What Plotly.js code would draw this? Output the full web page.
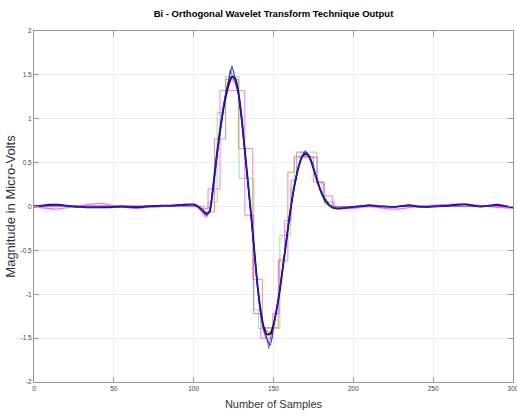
<!DOCTYPE html>
<html>
<head>
<meta charset="utf-8">
<script src="https://cdn.plot.ly/plotly-3.0.1.min.js"></script>
<style>html,body{margin:0;padding:0;background:#fff;}#chart{width:517px;height:414px;}</style>
</head>
<body>
<div id="chart"></div>
<script>
// ---- data ----
var xTickVals = [0, 50, 100, 150, 200, 250, 300];
var xTickText = ["0", "50", "100", "150", "200", "250", "300"];
var yTickVals = [-2, -1.5, -1, -0.5, 0, 0.5, 1, 1.5, 2];
var yTickText = ["-2", "-1.5", "-1", "-0.5", "0", "0.5", "1", "1.5", "2"];

// original signal (black)
var blackX = [0,5,10,15,20,25,30,35,40,45,50,55,60,65,70,75,80,85,90,95,100,102,104,106,108,110,112,114,116,118,120,122,124,126,128,130,132,134,136,138,140,142,144,146,148,150,152,154,156,158,160,162,164,166,168,170,172,174,176,178,180,182,184,186,188,190,195,200,205,210,215,220,225,230,235,240,245,250,255,260,265,270,275,280,285,290,295,300];
var blackY = [0.0,0.01,0.02,0.02,0.01,0.0,-0.005,-0.01,-0.01,-0.01,-0.005,0.0,-0.005,-0.01,0.0,0.005,0.01,0.01,0.015,0.02,0.025,0.01,-0.02,-0.05,-0.08,-0.06,0.2,0.52,0.8,1.05,1.25,1.4,1.48,1.46,1.3,1.02,0.65,0.28,-0.1,-0.5,-0.9,-1.2,-1.38,-1.46,-1.45,-1.35,-1.17,-0.95,-0.68,-0.4,-0.12,0.12,0.32,0.47,0.57,0.6,0.58,0.5,0.38,0.26,0.16,0.08,0.03,0.0,-0.02,-0.025,-0.015,-0.005,0.005,0.015,0.005,0.0,-0.005,0.005,0.015,0.0,-0.005,0.0,0.005,0.01,0.02,0.025,0.01,0.0,0.01,0.02,0.005,-0.01];

// reconstructed signal (blue)
var blueX = blackX;
var blueY = [0.0,0.01,0.015,0.02,0.01,0.0,-0.005,-0.01,-0.01,-0.005,-0.005,0.0,-0.005,-0.005,0.0,0.005,0.01,0.01,0.015,0.02,0.02,0.01,-0.02,-0.06,-0.1,-0.05,0.18,0.5,0.8,1.06,1.28,1.44,1.6,1.45,1.28,1.0,0.63,0.26,-0.12,-0.52,-0.92,-1.22,-1.42,-1.52,-1.58,-1.38,-1.17,-0.94,-0.66,-0.38,-0.1,0.13,0.33,0.48,0.58,0.62,0.59,0.5,0.38,0.26,0.16,0.08,0.03,0.0,-0.02,-0.02,-0.015,-0.005,0.005,0.01,0.005,0.0,-0.005,0.005,0.01,0.0,-0.005,0.0,0.005,0.01,0.02,0.02,0.01,0.0,0.01,0.015,0.005,-0.01];

// thin dark reconstruction (gray)
var grayX = [100,104,106,108,110,112,116,120,122,123,124,126,128,132,136,140,144,146,147,148,150,154,158,162,166,169,170,172,176,180,186,190];
var grayY = [0.02,-0.02,-0.06,-0.1,-0.07,0.2,0.8,1.28,1.46,1.56,1.5,1.42,1.28,0.64,-0.12,-0.92,-1.4,-1.5,-1.62,-1.5,-1.36,-0.95,-0.4,0.12,0.48,0.62,0.64,0.58,0.38,0.16,0.0,-0.02];

// smooth magenta reconstruction
var magSX = [0,8,14,22,30,41,50,62,72,80,90,100,104,108,112,116,120,124,128,132,136,140,144,148,152,156,160,164,168,170,172,176,180,186,192,200,210,225,240,255,270,285,300];
var magSY = [0.0,-0.02,-0.03,-0.01,0.01,0.035,0.01,-0.02,-0.01,0.0,0.02,0.02,-0.04,-0.12,0.15,0.78,1.22,1.45,1.3,0.62,-0.12,-0.9,-1.38,-1.44,-1.15,-0.66,-0.12,0.32,0.56,0.58,0.56,0.36,0.15,0.0,-0.02,-0.02,0.0,-0.03,0.0,0.02,0.03,0.0,-0.02];

// step approximations
var redX = [0,100,106,113,120,128,137,143,150,153,159,163,175,181,187,300];
var redY = [0.01,0.0,-0.06,0.77,1.45,0.66,-0.83,-1.38,-1.38,-0.62,0.39,0.57,0.28,0.12,0.0,0.0];

var greenX = [0,100,104,109,114.7,120,128.5,137.7,140.5,154,160.8,163,166.6,177,182,188,300];
var greenY = [0.0,0.0,-0.03,0.05,1.07,1.48,0.32,-1.18,-1.39,-0.33,0.2,0.55,0.62,0.26,0.02,0.0,0.0];

var magX = [0,100,104,109,116.5,132,137.5,142,148,149.5,153.5,157,161,164.5,169,177.5,181.7,188,300];
var magY = [0.0,0.0,-0.02,0.2,1.32,-0.1,-1.22,-1.5,-1.5,-1.22,-0.6,-0.16,0.3,0.62,0.56,0.28,0.05,0.0,0.0];

// ---- traces ----
var traces = [
  {x: redX, y: redY, mode: 'lines', line: {shape: 'hv', color: 'rgba(255,40,40,0.55)', width: 1}},
  {x: greenX, y: greenY, mode: 'lines', line: {shape: 'hv', color: 'rgba(40,230,40,0.55)', width: 1}},
  {x: magX, y: magY, mode: 'lines', line: {shape: 'hv', color: 'rgba(255,40,255,0.65)', width: 1}},
  {x: magSX, y: magSY, mode: 'lines', line: {shape: 'spline', smoothing: 0.8, color: 'rgba(255,60,255,0.75)', width: 1.3}},
  {x: grayX, y: grayY, mode: 'lines', line: {shape: 'linear', color: 'rgba(90,90,90,0.8)', width: 1}},
  {x: blackX, y: blackY, mode: 'lines', line: {shape: 'spline', smoothing: 0.6, color: '#111', width: 1.8}},
  {x: blueX, y: blueY, mode: 'lines', line: {shape: 'spline', smoothing: 0.6, color: 'rgba(30,30,255,0.9)', width: 1.2}}
];

var sans = '"Liberation Sans", Arial, sans-serif';
var layout = {
  width: 517, height: 414,
  margin: {l: 34, r: 4, t: 31, b: 32},
  paper_bgcolor: '#fff', plot_bgcolor: '#fff',
  showlegend: false,
  title: {text: '<b>Bi - Orthogonal Wavelet Transform Technique Output</b>',
          font: {family: sans, size: 9.5, color: '#000'},
          x: 0.529, xanchor: 'center', y: 0.966, yanchor: 'middle', yref: 'container'},
  xaxis: {
    range: [0, 300], tickvals: xTickVals, ticktext: xTickText,
    ticks: 'inside', ticklen: 5, tickcolor: '#999', tickwidth: 1,
    showline: true, linecolor: '#999', linewidth: 1, mirror: 'ticks',
    showgrid: true, gridcolor: '#ececec', zeroline: false,
    ticklabeloverflow: 'allow',
    tickfont: {family: sans, size: 6.5, color: '#444'},
    title: {text: 'Number of Samples', font: {family: sans, size: 11, color: '#333'}, standoff: 9},
    automargin: false, fixedrange: true
  },
  yaxis: {
    range: [-2, 2], tickvals: yTickVals, ticktext: yTickText,
    ticks: 'inside', ticklen: 5, tickcolor: '#999', tickwidth: 1,
    showline: true, linecolor: '#999', linewidth: 1, mirror: 'ticks',
    showgrid: true, gridcolor: '#ececec', zeroline: false,
    ticklabeloverflow: 'allow',
    tickfont: {family: sans, size: 6.5, color: '#444'},
    title: {text: 'Magnitude in Micro-Volts', font: {family: sans, size: 13, color: '#333'}, standoff: 1},
    automargin: false, fixedrange: true
  }
};

Plotly.newPlot('chart', traces, layout, {displayModeBar: false, staticPlot: true});
</script>
</body>
</html>
